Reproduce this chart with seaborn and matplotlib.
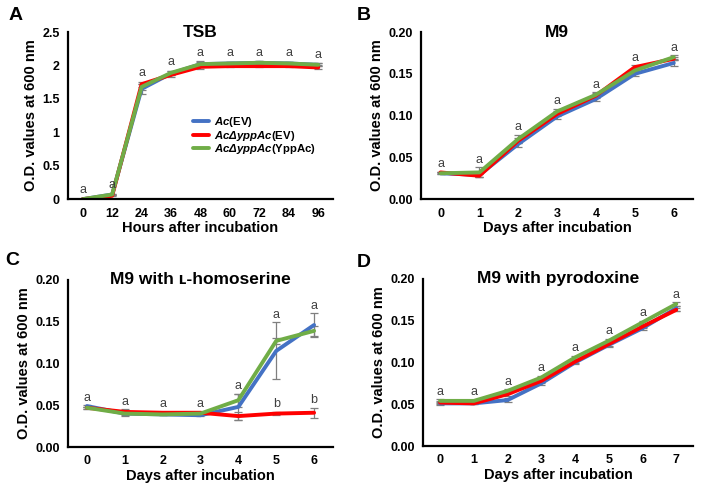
import numpy as np
import pandas as pd
import matplotlib
matplotlib.use("Agg")
import matplotlib.pyplot as plt
import seaborn as sns

# ---------------- data ----------------
series_names = [r"$\mathbfit{Ac}$(EV)", r"$\mathbfit{AcΔyppAc}$(EV)", r"$\mathbfit{AcΔyppAc}$(YppAc)"]
series_colors = ["#4472C4", "#FF0000", "#70AD47"]

# Panel A: TSB
a_x = [0, 12, 24, 36, 48, 60, 72, 84, 96]
a_blue = [0.00, 0.07, 1.65, 1.88, 2.02, 2.03, 2.04, 2.03, 2.01]
a_red = [0.00, 0.05, 1.72, 1.86, 1.98, 1.99, 1.99, 1.99, 1.97]
a_green = [0.00, 0.07, 1.68, 1.89, 2.02, 2.03, 2.04, 2.03, 2.01]
a_blue_err = [0.00, 0.01, 0.07, 0.03, 0.04, 0.02, 0.02, 0.02, 0.02]
a_red_err = [0.00, 0.01, 0.04, 0.03, 0.03, 0.02, 0.02, 0.02, 0.03]
a_green_err = [0.00, 0.01, 0.05, 0.03, 0.03, 0.02, 0.02, 0.02, 0.02]
a_letters = ["a"] * 9

# Panel B: M9
b_x = [0, 1, 2, 3, 4, 5, 6]
b_blue = [0.031, 0.029, 0.066, 0.099, 0.120, 0.150, 0.163]
b_red = [0.032, 0.028, 0.070, 0.102, 0.124, 0.158, 0.168]
b_green = [0.031, 0.032, 0.072, 0.105, 0.125, 0.154, 0.170]
b_blue_err = [0.001, 0.003, 0.004, 0.003, 0.003, 0.003, 0.004]
b_red_err = [0.001, 0.002, 0.003, 0.003, 0.003, 0.002, 0.002]
b_green_err = [0.001, 0.006, 0.005, 0.003, 0.003, 0.002, 0.002]
b_letters = ["a"] * 7

# Panel C: M9 with L-homoserine
c_x = [0, 1, 2, 3, 4, 5, 6]
c_blue = [0.049, 0.040, 0.039, 0.038, 0.048, 0.115, 0.146]
c_red = [0.047, 0.042, 0.041, 0.041, 0.037, 0.040, 0.041]
c_green = [0.047, 0.040, 0.039, 0.040, 0.056, 0.127, 0.139]
c_blue_err = [0.001, 0.003, 0.001, 0.001, 0.016, 0.034, 0.014]
c_red_err = [0.001, 0.003, 0.001, 0.001, 0.005, 0.002, 0.006]
c_green_err = [0.001, 0.002, 0.001, 0.001, 0.008, 0.004, 0.006]
c_letters = ["a"] * 7
c_low_letters = ["", "", "", "", "", "b", "b"]

# Panel D: M9 with pyrodoxine
d_x = [0, 1, 2, 3, 4, 5, 6, 7]
d_blue = [0.051, 0.051, 0.055, 0.075, 0.100, 0.121, 0.141, 0.165]
d_red = [0.052, 0.051, 0.062, 0.078, 0.101, 0.122, 0.143, 0.163]
d_green = [0.054, 0.054, 0.066, 0.082, 0.106, 0.126, 0.148, 0.170]
d_blue_err = [0.002, 0.001, 0.002, 0.002, 0.002, 0.002, 0.002, 0.003]
d_red_err = [0.002, 0.001, 0.002, 0.002, 0.002, 0.002, 0.002, 0.002]
d_green_err = [0.002, 0.001, 0.002, 0.002, 0.002, 0.002, 0.002, 0.002]
d_letters = ["a"] * 8

panel_titles = ["TSB", "M9", "M9 with ʟ-homoserine", "M9 with pyrodoxine"]
panel_tags = ["A", "B", "C", "D"]
x_labels = ["Hours after incubation", "Days after incubation",
            "Days after incubation", "Days after incubation"]
y_label = "O.D. values at 600 nm"

# ---------------- style ----------------
sns.set_style("white")
plt.rcParams["font.family"] = ["Liberation Sans", "DejaVu Sans"]
plt.rcParams["text.color"] = "black"
plt.rcParams["axes.labelcolor"] = "black"
plt.rcParams["xtick.color"] = "black"
plt.rcParams["ytick.color"] = "black"
plt.rcParams["mathtext.fontset"] = "custom"
plt.rcParams["mathtext.rm"] = "Liberation Sans:bold"
plt.rcParams["mathtext.it"] = "Liberation Sans:italic:bold"
plt.rcParams["mathtext.bf"] = "Liberation Sans:bold"
plt.rcParams["mathtext.bfit"] = "Liberation Sans:italic:bold"

fig = plt.figure(figsize=(7.03, 4.93), dpi=100)
axes_rects = [
    [0.0967, 0.596, 0.377, 0.339],
    [0.599, 0.596, 0.387, 0.339],
    [0.0967, 0.0933, 0.377, 0.339],
    [0.602, 0.0953, 0.384, 0.339],
]
panels = [
    (a_x, [a_blue, a_red, a_green], [a_blue_err, a_red_err, a_green_err], a_letters, None,
     (0, 2.5), [0, 0.5, 1, 1.5, 2, 2.5], ["0", "0.5", "1", "1.5", "2", "2.5"], 12, 0.04),
    (b_x, [b_blue, b_red, b_green], [b_blue_err, b_red_err, b_green_err], b_letters, None,
     (0, 0.2), [0, 0.05, 0.10, 0.15, 0.20], ["0.00", "0.05", "0.10", "0.15", "0.20"], 1, 0.002),
    (c_x, [c_blue, c_red, c_green], [c_blue_err, c_red_err, c_green_err], c_letters, c_low_letters,
     (0, 0.2), [0, 0.05, 0.10, 0.15, 0.20], ["0.00", "0.05", "0.10", "0.15", "0.20"], 1, 0.002),
    (d_x, [d_blue, d_red, d_green], [d_blue_err, d_red_err, d_green_err], d_letters, None,
     (0, 0.2), [0, 0.05, 0.10, 0.15, 0.20], ["0.00", "0.05", "0.10", "0.15", "0.20"], 1, 0.002),
]
tag_pos = [(0.022, 0.968), (0.518, 0.968), (0.018, 0.472), (0.518, 0.468)]

for i, (xs, ys, errs, letters, low_letters, ylim, yticks, yticklabels, step, off) in enumerate(panels):
    ax = fig.add_axes(axes_rects[i])
    rows = []
    for name, yv in zip(series_names, ys):
        for xv, v in zip(xs, yv):
            rows.append({"x": xv, "y": v, "strain": name})
    df = pd.DataFrame(rows)
    for yv, ev in zip(ys, errs):
        ax.errorbar(xs, yv, yerr=ev, fmt="none", ecolor="#7f7f7f", elinewidth=0.9,
                    capsize=3, capthick=0.9, zorder=1)
    sns.lineplot(data=df, x="x", y="y", hue="strain", hue_order=series_names,
                 palette=series_colors, linewidth=2.8, ax=ax, legend=(i == 0),
                 zorder=2, errorbar=None)
    ys_arr = np.array(ys)
    es_arr = np.array(errs)
    tops = (ys_arr + es_arr).max(axis=0)
    for j, xv in enumerate(xs):
        ax.text(xv, tops[j] + off, letters[j], ha="center", va="bottom",
                fontsize=9, color="#404040")
        if low_letters is not None and low_letters[j]:
            ax.text(xv, ys_arr[1][j] + es_arr[1][j] + off, low_letters[j], ha="center",
                    va="bottom", fontsize=9, color="#404040")
    ax.set_xlim(xs[0] - step / 2, xs[-1] + step / 2)
    ax.set_ylim(*ylim)
    ax.set_xticks(xs)
    ax.set_xticklabels([str(v) for v in xs], fontsize=9, fontweight="bold")
    ax.set_xticks([xs[0] - step / 2 + k * step for k in range(len(xs) + 1)], minor=True)
    ax.set_yticks(yticks)
    ax.set_yticklabels(yticklabels, fontsize=9, fontweight="bold")
    ax.tick_params(axis="x", which="major", length=0, pad=6)
    ax.tick_params(axis="x", which="minor", length=3, width=1.5, direction="out", color="black")
    ax.tick_params(axis="y", which="major", length=3, width=1.5, direction="out", color="black", pad=3)
    ax.set_xlabel(x_labels[i], fontsize=10.5, fontweight="bold", labelpad=1)
    ax.set_ylabel(y_label, fontsize=10.5, fontweight="bold", labelpad=3)
    for s in ["top", "right"]:
        ax.spines[s].set_visible(False)
    for s in ["left", "bottom"]:
        ax.spines[s].set_linewidth(1.6)
        ax.spines[s].set_color("black")
    ax.text(0.5, 1.0, panel_titles[i], transform=ax.transAxes, ha="center", va="center",
            fontsize=12.5, fontweight="bold")
    fig.text(tag_pos[i][0], tag_pos[i][1], panel_tags[i], ha="center", va="center",
             fontsize=14, fontweight="bold")
    if i == 0:
        leg = ax.legend(loc="upper left", bbox_to_anchor=(0.455, 0.53), frameon=False,
                        handlelength=1.4, handletextpad=0.4, labelspacing=-0.05,
                        prop={"size": 8.2, "weight": "bold"}, borderaxespad=0)
        for lh in leg.get_lines():
            lh.set_linewidth(2.8)

fig.savefig("out.png", dpi=100, facecolor="white")
